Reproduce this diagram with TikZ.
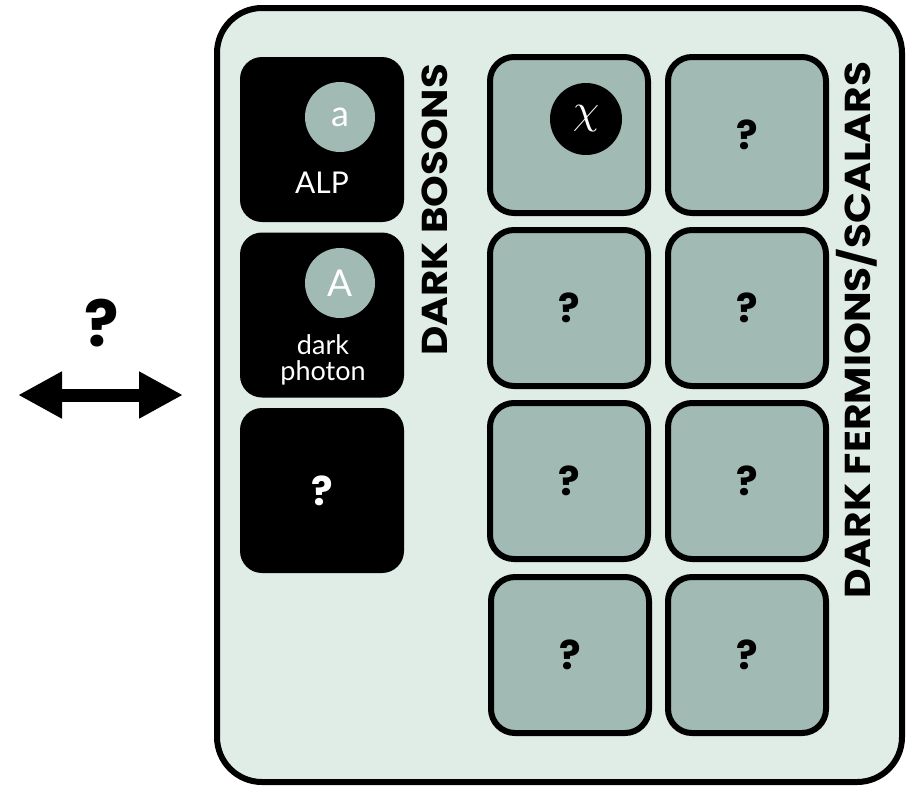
\documentclass[tikz,border=0pt]{standalone}
\usepackage{fontspec}
\setmainfont{Poppins}
\newfontfamily\lblfont{Lato}
\usetikzlibrary{arrows.meta}
\definecolor{bgc}{HTML}{DFEDE6}
\definecolor{gc}{HTML}{A1BAB3}
\begin{document}
\begin{tikzpicture}[x=1pt,y=-1pt,
  outerbox/.style={draw, line width=6pt, fill=bgc, rounded corners=45pt, minimum width=685pt, minimum height=774pt, inner sep=0pt},
  bbox/.style={fill=black, rounded corners=22pt, minimum width=164pt, minimum height=165pt, inner sep=0pt, text=white, font=\bfseries\fontsize{40}{40}\selectfont},
  fbox/.style={draw, fill=gc, line width=6pt, rounded corners=24pt, minimum width=158pt, minimum height=156pt, inner sep=0pt, font=\bfseries\fontsize{40}{40}\selectfont},
  part/.style={circle, fill=gc, minimum size=70pt, inner sep=0pt, text=white},
  title/.style={rotate=90, inner sep=0pt, font=\bfseries\fontsize{36}{36}\selectfont},
  lbl/.style={text=white, inner sep=0pt, align=center}
]
\useasboundingbox (0,0) rectangle (912,788);
\node[outerbox] (outer) at (559.5,395) {};
% bosons
\node[bbox] (b1) at (322,139.5) {};
\node[bbox] (b2) at (322,315) {};
\node[bbox] (b3) at (322,490.5) {?};
\node[part, font=\lblfont\fontsize{36}{36}\selectfont] (ca) at (340,117) {a};
\node[part, font=\lblfont\fontsize{37}{37}\selectfont] (cA) at (340,283) {A};
\node[lbl, font=\lblfont\fontsize{30}{30}\selectfont] (alp) at (322,183) {ALP};
\node[lbl, font=\lblfont\fontsize{27}{26}\selectfont] (dp) at (323,360) {dark\\photon};
\node[title] (tb) at (435,210) {\scalebox{1.12}[1]{DARK BOSONS}};
% fermions
\node[fbox] (f11) at (569,135) {};
\node[fbox] (f12) at (747,135) {?};
\node[fbox] (f21) at (569,308) {?};
\node[fbox] (f22) at (747,308) {?};
\node[fbox] (f31) at (569,481) {?};
\node[fbox] (f32) at (747,481) {?};
\node[fbox] (f41) at (570,655) {?};
\node[fbox] (f42) at (747,655) {?};
\node[circle, fill=black, minimum size=72pt, inner sep=0pt, text=white, font=\normalsize] (chi) at (586,119) {\scalebox{4.2}{$\chi$}};
\node[title] (tf) at (857,330) {\scalebox{1.13}[1]{DARK FERMIONS/SCALARS}};
% left
\node[inner sep=0pt, font=\bfseries\fontsize{64}{64}\selectfont] (q) at (102,323) {?};
\coordinate (al) at (18,395);
\coordinate (ar) at (183,395);
\draw[line width=13pt, {Triangle[length=44pt,width=44pt]}-{Triangle[length=44pt,width=44pt]}] (al) -- (ar);
\end{tikzpicture}
\end{document}
